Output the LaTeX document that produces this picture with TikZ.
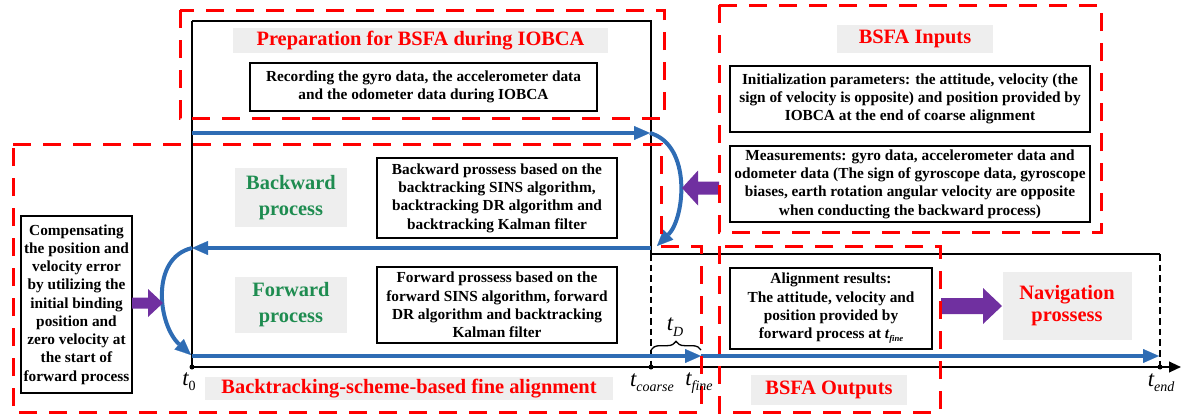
\documentclass[tikz,border=0pt]{standalone}
\usepackage{fontspec}
\setmainfont{Liberation Serif}
\usetikzlibrary{arrows.meta,calc,decorations.pathreplacing}
\definecolor{bsred}{RGB}{255,0,0}
\definecolor{bsblue}{RGB}{46,108,180}
\definecolor{bspurple}{RGB}{112,48,160}
\definecolor{bsgreen}{RGB}{30,140,80}
\definecolor{bsgray}{RGB}{238,238,238}
\newcommand\bsbody{\fontsize{11.5}{13.7}\selectfont\bfseries}
\newcommand\bstitle{\fontsize{15.3}{19.5}\selectfont\bfseries}
\newcommand\bsnav{\fontsize{15.3}{16.5}\selectfont\bfseries}
\newcommand\tlab[1]{{\fontsize{17}{17}\selectfont\itshape t}\raisebox{-4pt}{\fontsize{10.5}{10.5}\selectfont #1}}
\newcommand\tfinesmall{{\itshape t}\raisebox{-2.5pt}{\fontsize{6.5}{6.5}\selectfont\itshape fine}}
% fat arrow: tail, tip, head base offset from tip (signed), head half height, shaft half height
\newcommand\fatarrow[5]{\fill[bspurple] ($(#1)+(0,-#5)$) -- ($(#2)+(#3,-#5)$) -- ($(#2)+(#3,-#4)$) -- (#2) -- ($(#2)+(#3,#4)$) -- ($(#2)+(#3,#5)$) -- ($(#1)+(0,#5)$) -- cycle;}
\begin{document}
\begin{tikzpicture}[x=0.75pt,y=-0.75pt,
  reddash/.style={draw=bsred,line width=2.25pt,dash pattern=on 13.5pt off 9pt},
  axisline/.style={draw=black,line width=1.5pt},
  thindash/.style={draw=black,line width=0.8pt,dash pattern=on 5pt off 3pt},
  flow/.style={draw=bsblue,line width=3pt,-{Triangle[length=12pt,width=10.5pt,line width=0.1pt]}},
  txtbox/.style={draw=black,line width=1.1pt,inner sep=0pt,align=center,font=\bsbody},
  redtitle/.style={fill=bsgray,text=bsred,inner sep=0pt,align=center,font=\bstitle},
  greentitle/.style={fill=bsgray,text=bsgreen,inner sep=0pt,align=center,font=\bstitle},
  tnode/.style={inner sep=0pt,anchor=center},
  tdot/.style={circle,fill=black,inner sep=0pt,minimum size=3.75pt},
]
\useasboundingbox (0,0) rectangle (1181,418);

% key coordinates
\coordinate (TL) at (192,21);
\coordinate (TR) at (651,21);
\coordinate (J) at (651,254);
\coordinate (RE) at (1160,254);
\coordinate (O) at (192,367);
\coordinate (AxS) at (190,367);
\coordinate (Ax) at (1181,367);
\coordinate (C) at (651,367);
\coordinate (E) at (1160,367);
\coordinate (b1s) at (192,133);
\coordinate (b1e) at (650,133);
\coordinate (b2c) at (657,246);
\coordinate (b2s) at (651,248);
\coordinate (b2e) at (192,248);
\coordinate (b3c) at (191,355);
\coordinate (b3s) at (192,356);
\coordinate (F) at (701,356);
\coordinate (b4e) at (1159,356);

% gray title nodes
\node[redtitle,minimum width=281.25pt,minimum height=18.75pt] (prepT) at (420.5,40.5) {Preparation for BSFA during IOBCA};
\node[redtitle,minimum width=117pt,minimum height=21pt] (inT) at (915,39) {BSFA Inputs};
\node[greentitle,minimum width=84pt,minimum height=44.25pt] (bwT) at (291,197.5) {Backward\\process};
\node[greentitle,minimum width=84pt,minimum height=42pt] (fwT) at (291,305) {Forward\\process};
\node[redtitle,minimum width=306pt,minimum height=17.25pt] (btT) at (409,388.5) {Backtracking-scheme-based fine alignment};
\node[redtitle,minimum width=117pt,minimum height=22.5pt] (outT) at (829,390) {BSFA Outputs};
\node[redtitle,font=\bsnav,minimum width=96.75pt,minimum height=51pt] (navT) at (1067,306) {Navigation\\prossess};

% text boxes
\node[txtbox,minimum width=260.25pt,minimum height=36pt] (rec) at (423.5,87) {Recording the gyro data, the accelerometer data\\and the odometer data during IOBCA};
\node[txtbox,minimum width=180pt,minimum height=60pt] (bwd) at (497,198) {Backward prossess based on the\\backtracking SINS algorithm,\\backtracking DR algorithm and\\backtracking Kalman filter};
\node[txtbox,minimum width=180pt,minimum height=57pt] (fwd) at (497,305) {Forward prossess based on the\\forward SINS algorithm, forward\\DR algorithm and backtracking\\Kalman filter};
\node[txtbox,minimum width=270pt,minimum height=49.5pt] (init) at (910,99) {Initialization parameters: the attitude, velocity (the\\sign of velocity is opposite) and position provided by\\IOBCA at the end of coarse alignment};
\node[txtbox,minimum width=270pt,minimum height=57pt] (meas) at (910,184) {Measurements: gyro data, accelerometer data and\\odometer data (The sign of gyroscope data, gyroscope\\biases, earth rotation angular velocity are opposite\\when conducting the backward process)};
\node[txtbox,minimum width=83.25pt,minimum height=132.75pt] (comp) at (76.5,304.5) {Compensating\\the position and\\velocity error\\by utilizing the\\initial binding\\position and\\zero velocity at\\the start of\\forward process};
\node[txtbox,minimum width=151.5pt,minimum height=60.75pt] (align) at (831,308.5) {Alignment results:\\The attitude, velocity and\\position provided by\\forward process at \tfinesmall};

% black frame and time axis
\draw[axisline] (TL) -- (TR) -- (J) -- (RE);
\draw[axisline] (TL) -- (O);
\draw[axisline,-{Triangle[length=9pt,width=8pt]}] (AxS) -- (Ax);
\draw[thindash] (J) -- (C);
\draw[thindash] (RE) -- (E);
\node[tdot] (dO) at (O) {};
\node[tdot] (dC) at (C) {};
\node[tdot] (dE) at (E) {};

% blue flows
\draw[flow] (b1s) -- (b1e);
\draw[flow] (b1e) .. controls (692,145) and (685,218) .. (b2c);
\draw[flow] (b2s) -- (b2e);
\draw[flow] (b2e) .. controls (150,258) and (158,325) .. (b3c);
\draw[flow] (b3s) -- (F);
\draw[flow] (F) -- (b4e);

% purple arrows
\coordinate (pAs) at (132,303);
\coordinate (pAe) at (163,303);
\coordinate (pBs) at (719,188);
\coordinate (pBe) at (682,188);
\coordinate (pCs) at (941,306);
\coordinate (pCe) at (1002,306);
\fatarrow{pAs}{pAe}{-15}{14}{5.5}
\fatarrow{pBs}{pBe}{16}{17.5}{6.5}
\fatarrow{pCs}{pCe}{-19}{18}{8}

% red dashed regions
\draw[reddash] (180,10) rectangle (664,118);
\draw[reddash] (719,5) rectangle (1101,232);
\draw[reddash] (719,246) rectangle (940,412);
\draw[reddash] (13,144) -- (661,144) -- (661,246) -- (701,246) -- (701,412) -- (13,412) -- cycle;

% brace and time labels
\coordinate (brL) at (651,350);
\coordinate (brR) at (701,350);
\draw[line width=1pt,decorate,decoration={brace,amplitude=6.5pt}] (brL) -- (brR);
\node[tnode] (tD) at (675,327) {\tlab{\itshape D}};
\node[tnode] (t0) at (189,382) {\tlab{0}};
\node[tnode] (tc) at (652,383) {\tlab{\itshape coarse}};
\node[tnode] (tf) at (699,383) {\tlab{\itshape fine}};
\node[tnode] (te) at (1161,383) {\tlab{\itshape end}};
\end{tikzpicture}
\end{document}
